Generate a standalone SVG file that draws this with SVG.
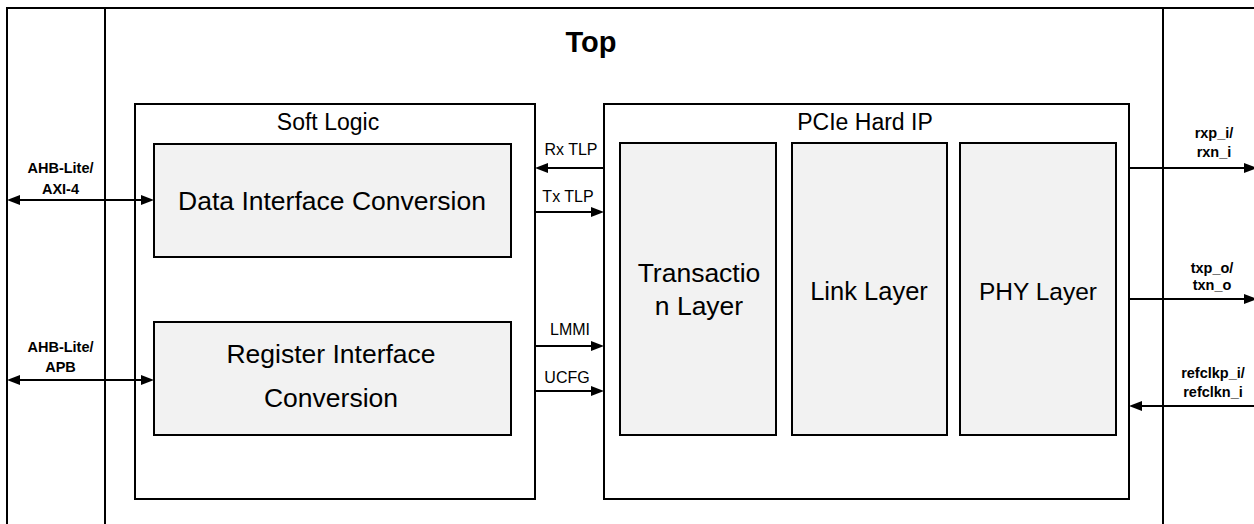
<svg xmlns="http://www.w3.org/2000/svg" width="1254" height="524" viewBox="0 0 1254 524">
  <defs>
    <style>
      .frame { fill: none; stroke: #000; stroke-width: 2; }
      .box { fill: #ffffff; stroke: #000; stroke-width: 2; }
      .sub { fill: #f2f2f2; stroke: #000; stroke-width: 2; }
      .wire { fill: none; stroke: #000; stroke-width: 2; }
      .t { font-family: "Liberation Sans", Arial, sans-serif; fill: #000; text-anchor: middle; }
      .big { font-size: 26.5px; }
      .hdr { font-size: 23px; }
      .sig { font-size: 16px; }
      .pin { font-size: 14.5px; font-weight: bold; }
      .title { font-size: 29px; font-weight: bold; }
    </style>
    <marker id="arr" viewBox="0 0 13 10" markerUnits="userSpaceOnUse" markerWidth="13" markerHeight="10" refX="10" refY="5" orient="auto-start-reverse">
      <path d="M0,0 L13,5 L0,10 z" fill="#000"/>
    </marker>
  </defs>

  <g id="top-frame">
    <path class="frame" d="M7,524 L7,8 L1256,8"/>
    <path class="frame" d="M105,8 L105,524"/>
    <path class="frame" d="M1163,8 L1163,524"/>
    <text class="t title" x="591" y="52">Top</text>
  </g>

  <g id="soft-logic">
    <rect class="box" x="135" y="104" width="400" height="395"/>
    <text class="t hdr" x="328" y="130">Soft Logic</text>
  </g>

  <g id="data-interface-conversion">
    <rect class="sub" x="154" y="144" width="357" height="113"/>
    <text class="t big" x="332" y="210">Data Interface Conversion</text>
  </g>

  <g id="register-interface-conversion">
    <rect class="sub" x="154" y="322" width="357" height="113"/>
    <text class="t big" x="331" y="363">Register Interface</text>
    <text class="t big" x="331" y="407">Conversion</text>
  </g>

  <g id="pcie-hard-ip">
    <rect class="box" x="604" y="104" width="525" height="395"/>
    <text class="t hdr" x="865" y="130">PCIe Hard IP</text>
  </g>

  <g id="transaction-layer">
    <rect class="sub" x="620" y="143" width="156" height="292"/>
    <text class="t big" x="699" y="282">Transactio</text>
    <text class="t big" x="699" y="315">n Layer</text>
  </g>

  <g id="link-layer">
    <rect class="sub" x="792" y="143" width="155" height="292"/>
    <text class="t big" x="869" y="300" style="font-size:25.5px">Link Layer</text>
  </g>

  <g id="phy-layer">
    <rect class="sub" x="960" y="143" width="156" height="292"/>
    <text class="t big" x="1038" y="300" style="font-size:24.5px">PHY Layer</text>
  </g>

  <g id="connectors">
    <line class="wire" x1="10" y1="200" x2="151" y2="200" marker-start="url(#arr)" marker-end="url(#arr)"/>
    <line class="wire" x1="10" y1="380" x2="151" y2="380" marker-start="url(#arr)" marker-end="url(#arr)"/>
    <line class="wire" x1="604" y1="168" x2="538" y2="168" marker-end="url(#arr)"/>
    <line class="wire" x1="535" y1="212" x2="601" y2="212" marker-end="url(#arr)"/>
    <line class="wire" x1="535" y1="346" x2="601" y2="346" marker-end="url(#arr)"/>
    <line class="wire" x1="535" y1="391" x2="601" y2="391" marker-end="url(#arr)"/>
    <line class="wire" x1="1129" y1="168" x2="1254" y2="168" marker-end="url(#arr)"/>
    <line class="wire" x1="1129" y1="299" x2="1254" y2="299" marker-end="url(#arr)"/>
    <line class="wire" x1="1256" y1="406" x2="1132" y2="406" marker-end="url(#arr)"/>
  </g>

  <g id="labels">
    <text class="t pin" x="60.5" y="173">AHB-Lite/</text>
    <text class="t pin" x="60.5" y="194">AXI-4</text>
    <text class="t pin" x="60.5" y="352">AHB-Lite/</text>
    <text class="t pin" x="60.5" y="372">APB</text>
    <text class="t sig" x="571" y="155">Rx TLP</text>
    <text class="t sig" x="568" y="202">Tx TLP</text>
    <text class="t sig" x="570" y="335">LMMI</text>
    <text class="t sig" x="567" y="383">UCFG</text>
    <text class="t pin" x="1214" y="138">rxp_i/</text>
    <text class="t pin" x="1214" y="157">rxn_i</text>
    <text class="t pin" x="1212" y="273">txp_o/</text>
    <text class="t pin" x="1212" y="290">txn_o</text>
    <text class="t pin" x="1213" y="378">refclkp_i/</text>
    <text class="t pin" x="1213" y="397">refclkn_i</text>
  </g>
</svg>
